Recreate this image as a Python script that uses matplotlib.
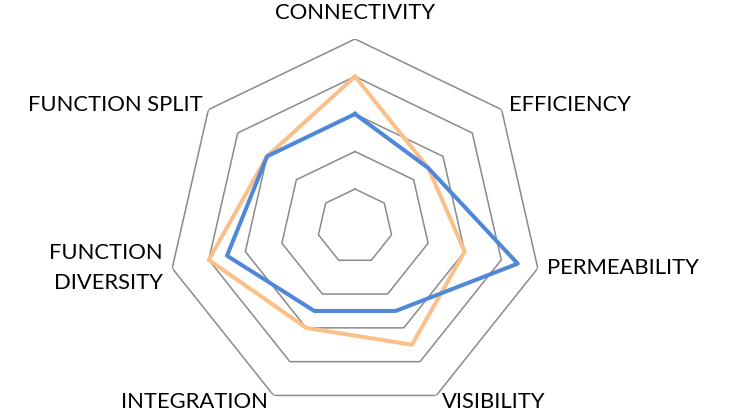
import numpy as np
import matplotlib
matplotlib.use("Agg")
import matplotlib.pyplot as plt

categories = ["CONNECTIVITY", "EFFICIENCY", "PERMEABILITY", "VISIBILITY",
              "INTEGRATION", "FUNCTION\nDIVERSITY", "FUNCTION SPLIT"]
series_blue = [3.0, 2.5, 4.45, 2.5, 2.5, 3.5, 3.0]
series_orange = [4.0, 2.5, 3.0, 3.5, 3.0, 4.0, 3.0]
ring_levels = [1, 2, 3, 4, 5]

W, H = 741, 420
fig = plt.figure(figsize=(W / 100, H / 100), dpi=100)
cx, cy, R = 355, 226.5, 187.5
ax = fig.add_axes([(cx - R) / W, (H - cy - R) / H, 2 * R / W, 2 * R / H], projection="polar")
ax.set_theta_zero_location("N")
ax.set_theta_direction(-1)
ax.set_ylim(0, 5)
ax.grid(False)
ax.spines["polar"].set_visible(False)
ax.set_xticks([])
ax.set_yticks([])
ax.patch.set_visible(False)

n = len(categories)
theta = np.arange(n) * 2 * np.pi / n
theta_c = np.append(theta, theta[0])

for lv in ring_levels:
    ax.plot(theta_c, [lv] * (n + 1), color="#8a8a8a", lw=1.1, zorder=1)

ax.plot(theta_c, series_blue + series_blue[:1], color="#4f88d6", lw=2.9, zorder=3)
ax.plot(theta_c, series_orange + series_orange[:1], color="#fbbf89", lw=2.9, zorder=2)

font = "Lato"
fs = 15.8
def lab(x, y, s, ha, ls=1.15):
    fig.text(x / W, 1 - y / H, s, ha=ha, va="center", fontsize=fs, family=font,
             color="black", linespacing=ls)

lab(355, 13, categories[0], "center")
lab(509, 105, categories[1], "left")
lab(547, 268, categories[2], "left")
lab(442, 402, categories[3], "left")
lab(268, 402, categories[4], "right")
lab(163, 268, categories[5], "right", ls=1.65)
lab(203, 105, categories[6], "right")

fig.savefig("out.png", dpi=100)
